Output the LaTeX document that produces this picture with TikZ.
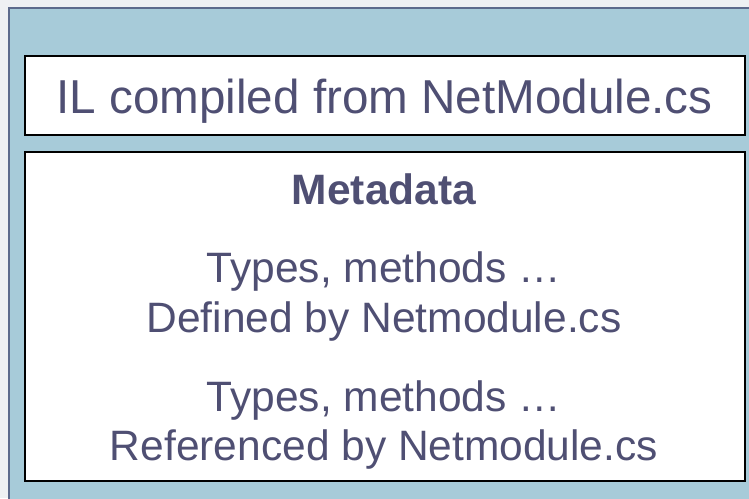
\documentclass[tikz,border=0pt]{standalone}
\usepackage{fontspec}
\setmainfont{Liberation Sans}
\usetikzlibrary{shadows}
\definecolor{panelblue}{HTML}{A7CBD9}
\definecolor{paneledge}{HTML}{5C6A8C}
\definecolor{txtcol}{HTML}{4F4F73}
\definecolor{bgcol}{HTML}{EEF0F3}
\begin{document}
\begin{tikzpicture}[x=1pt,y=-1pt,
  whitebox/.style={draw=black, line width=1.5pt, fill=white, inner sep=0pt,
    drop shadow={shadow xshift=1.5pt, shadow yshift=-1.5pt, fill=black!45, opacity=1}},
  bodytxt/.style={text=txtcol, font=\fontsize{42.5}{50}\selectfont, anchor=base, inner sep=0pt},
  titletxt/.style={text=txtcol, font=\fontsize{47.6}{55}\selectfont, anchor=base, inner sep=0pt}]
\useasboundingbox (0,0) rectangle (749,498);
\fill[bgcol] (0,0) rectangle (749,498);
\node[draw=paneledge, line width=2pt, fill=panelblue, minimum width=760pt, minimum height=510pt, anchor=north west, inner sep=0pt] (panel) at (8,7) {};
\node[whitebox, minimum width=720pt, minimum height=79pt, anchor=north west] (ilbox) at (24,55) {};
\node[whitebox, minimum width=720pt, minimum height=329pt, anchor=north west] (metabox) at (24,151) {};
\node[titletxt] (il) at (384.5,113.3) {IL compiled from NetModule.cs};
\node[bodytxt, font=\fontsize{42.5}{50}\selectfont\bfseries] (meta) at (384,204.3) {Metadata};
\node[bodytxt] (t1) at (384,282.3) {Types, methods …};
\node[bodytxt] (d1) at (384,332.7) {Defined by Netmodule.cs};
\node[bodytxt] (t2) at (384,411) {Types, methods …};
\node[bodytxt] (r1) at (384,460.7) {Referenced by Netmodule.cs};
\end{tikzpicture}
\end{document}
